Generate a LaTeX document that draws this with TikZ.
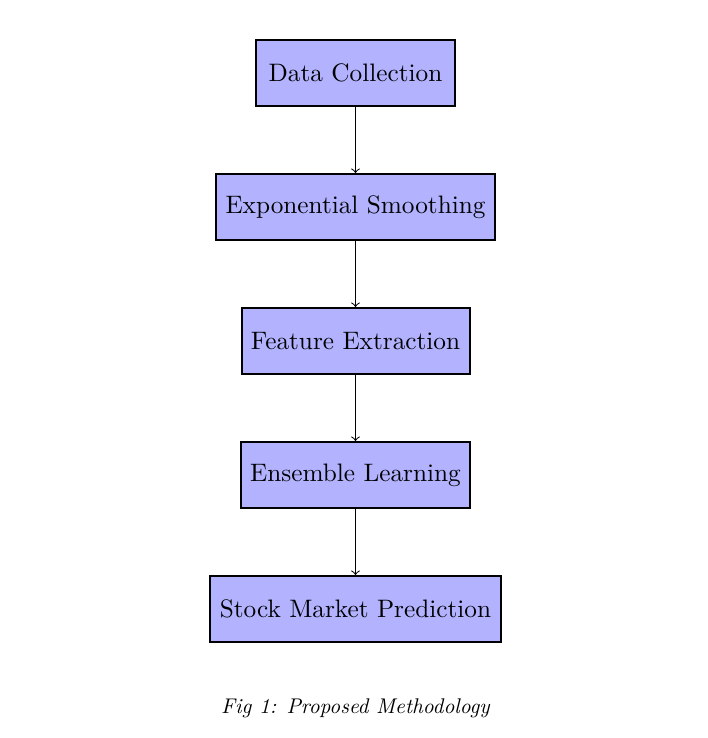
\documentclass[tikz,border=0pt]{standalone}
\usetikzlibrary{arrows}
\begin{document}
\begin{tikzpicture}[x=1pt,y=1pt,
  stagebox/.style={draw=black, line width=0.8pt, fill=blue!30, minimum height=26.4pt, inner xsep=3pt, align=center, font=\fontsize{10.1}{12}\selectfont},
  flow/.style={->, line width=0.4pt}]
\useasboundingbox (0,0) rectangle (283.2,-295.2);
\node[stagebox, minimum width=79.6pt] (dc) at (142.2,-29.2) {Data Collection};
\node[stagebox, minimum width=111.6pt] (es) at (142.2,-82.8) {Exponential Smoothing};
\node[stagebox, minimum width=91.2pt] (fe) at (142.2,-136.4) {Feature Extraction};
\node[stagebox, minimum width=91.6pt] (el) at (142.2,-190) {Ensemble Learning};
\node[stagebox, minimum width=116.4pt] (sp) at (142.2,-243.6) {Stock Market Prediction};
\node (cap) at (142.2,-283.4) {\scalebox{0.85}{\itshape Fig 1: Proposed Methodology}};
\draw[flow] (dc) -- (es);
\draw[flow] (es) -- (fe);
\draw[flow] (fe) -- (el);
\draw[flow] (el) -- (sp);
\end{tikzpicture}
\end{document}
